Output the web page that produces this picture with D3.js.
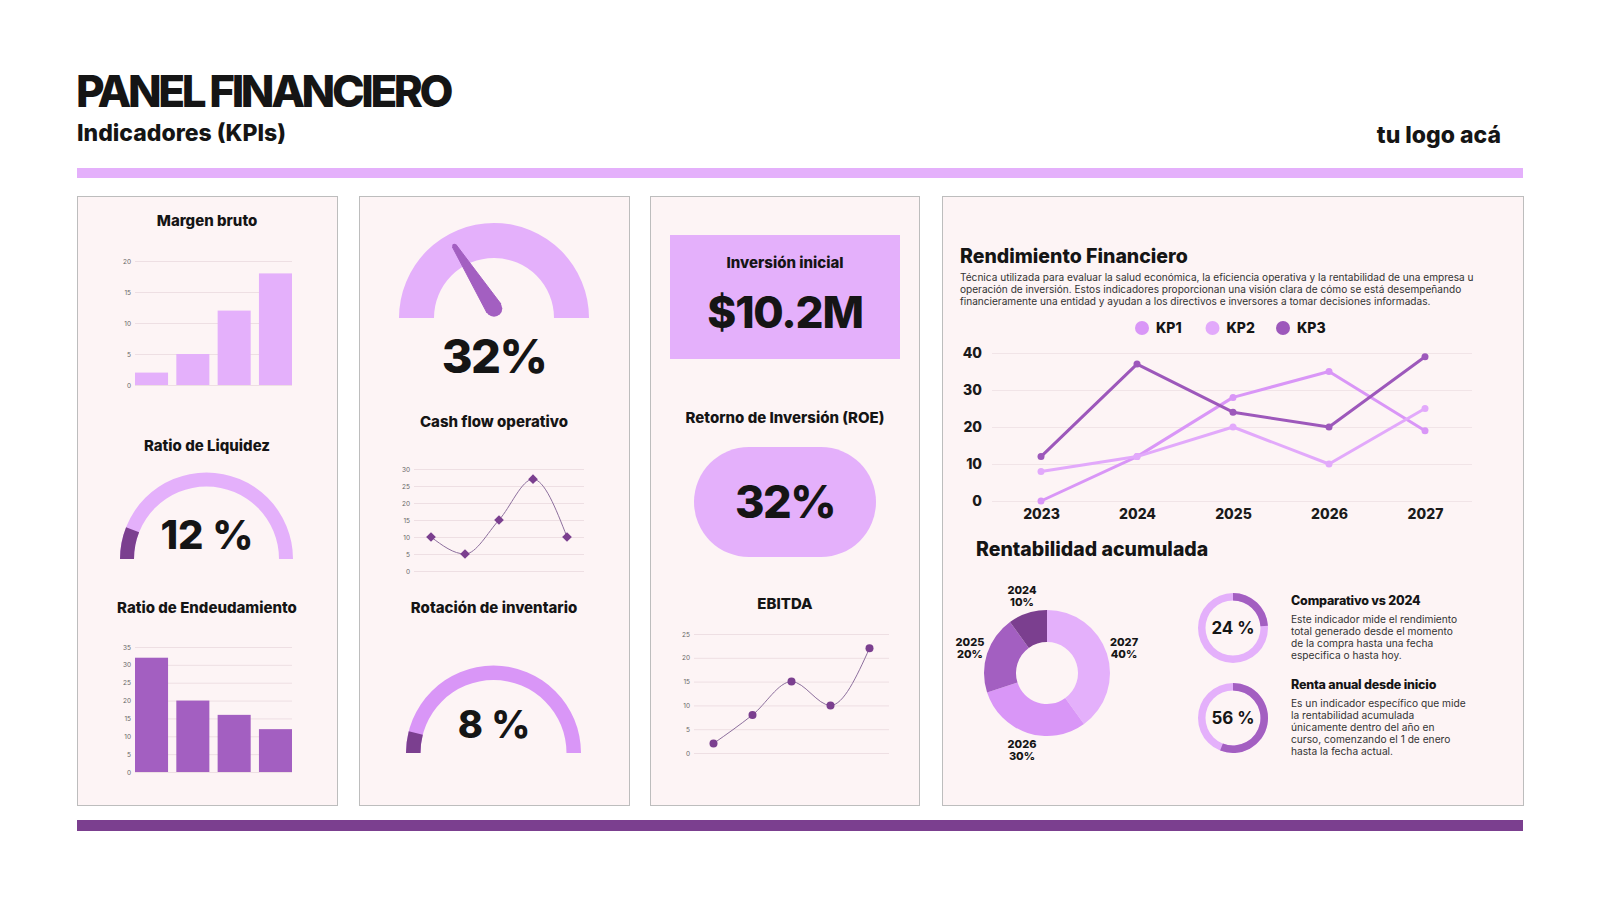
<!DOCTYPE html>
<html>
<head>
<meta charset="utf-8">
<script src="https://cdn.jsdelivr.net/npm/d3@7"></script>
<style>
	body { margin: 0; background: #fff; }
	text { font-family: Inter, "Open Sans", sans-serif; fill: #151515; }
	.title { font-weight: 800; }
	.tick-sm text { font-size: 6.5px; fill: #666; }
	.tick-sm .domain { display: none; }
	.tick-sm line { stroke: #eedfe3; }
	.kp-axis text { font-size: 14px; font-weight: 800; fill: #1a1a1a; }
	.kp-axis .domain { display: none; }
	.kp-axis line { stroke: #f1e4e7; }
	.desc { fill: #333; }
</style>
</head>
<body>
<svg id="chart" width="1600" height="900"></svg>
<script>
// ---------- DATA ----------
const barSlots = ["A", "B", "C", "D"];
const margenBruto = [2, 5, 12, 18];
const endeudamiento = [32, 20, 16, 12];
const pointSlots = ["1", "2", "3", "4", "5"];
const cashFlow = [10, 5, 15, 27, 10];
const ebitda = [2, 8, 15, 10, 22];
const years = ["2023", "2024", "2025", "2026", "2027"];
const kp1 = [0, 12, 28, 35, 19];
const kp2 = [8, 12, 20, 10, 25];
const kp3 = [12, 37, 24, 20, 39];
const kpNames = ["KP1", "KP2", "KP3"];
const donutYears = ["2027", "2026", "2025", "2024"];
const donutShares = [40, 30, 20, 10];
const liquidez = 12;
const rotacion = 8;
const needleValue = 32;
const roe = 32;
const inversion = "$10.2M";
const comparativo = 24;
const rentaAnual = 56;

const colorDef = {
	lilac: "#e4b0fb",
	orchid: "#d996f7",
	purple: "#a35fc1",
	plum: "#7b3f8f",
	panel: "#fdf4f5",
	border: "#bdbdbd",
	line: "#8d6f9d",
};

const svg = d3.select("#chart");

// ---------- HEADER ----------
svg.append("text").attr("class", "title")
	.attr("x", 76).attr("y", 107)
	.attr("font-size", 44).attr("letter-spacing", -3.4)
	.text("PANEL FINANCIERO");
svg.append("text").attr("class", "title")
	.attr("x", 77).attr("y", 141)
	.attr("font-size", 23)
	.text("Indicadores (KPIs)");
svg.append("text").attr("class", "title")
	.attr("x", 1501).attr("y", 143).attr("text-anchor", "end")
	.attr("font-size", 23)
	.text("tu logo acá");
svg.append("rect").attr("x", 77).attr("y", 168).attr("width", 1446).attr("height", 10).attr("fill", colorDef.lilac);
svg.append("rect").attr("x", 77).attr("y", 820).attr("width", 1446).attr("height", 11).attr("fill", colorDef.plum);

// panels
const panels = [[77, 337], [359, 629], [650, 919], [942, 1523]];
panels.forEach(([x0, x1]) => {
	svg.append("rect").attr("x", x0 + 0.5).attr("y", 196.5)
		.attr("width", x1 - x0).attr("height", 609)
		.attr("fill", colorDef.panel).attr("stroke", colorDef.border);
});

function heading(x, y, str, size, anchor) {
	return svg.append("text").attr("class", "title")
		.attr("x", x).attr("y", y)
		.attr("text-anchor", anchor || "middle")
		.attr("font-size", size || 15)
		.text(str);
}

// ---------- BAR CHARTS ----------
function barChart(values, yTop, yBottom, maxV, step, color) {
	const x = d3.scaleBand().domain(barSlots).range([135, 292]).paddingInner(0.2).paddingOuter(0);
	const y = d3.scaleLinear().domain([0, maxV]).range([yBottom, yTop]);
	const g = svg.append("g");
	g.append("g").attr("class", "tick-sm")
		.attr("transform", "translate(135,0)")
		.call(d3.axisLeft(y).tickValues(d3.range(0, maxV + 1, step)).tickSize(-157).tickPadding(4));
	g.selectAll("rect").data(values).join("rect")
		.attr("x", (d, i) => x(barSlots[i]))
		.attr("y", (d) => y(d))
		.attr("width", x.bandwidth())
		.attr("height", (d) => yBottom - y(d))
		.attr("fill", color);
}

heading(207, 226, "Margen bruto");
barChart(margenBruto, 261, 385, 20, 5, colorDef.lilac);
heading(207, 451, "Ratio de Liquidez");
heading(207, 613, "Ratio de Endeudamiento");
barChart(endeudamiento, 647, 772, 35, 5, colorDef.purple);

// ---------- GAUGES ----------
const gaugeAngle = d3.scaleLinear().domain([0, 100]).range([-Math.PI / 2, Math.PI / 2]);

function gauge(cx, cy, r, thick, value, base, fill) {
	const arc = d3.arc().innerRadius(r - thick).outerRadius(r);
	const g = svg.append("g").attr("transform", `translate(${cx},${cy})`);
	g.append("path").attr("d", arc({ startAngle: gaugeAngle(0), endAngle: gaugeAngle(100) })).attr("fill", base);
	if (fill) {
		g.append("path").attr("d", arc({ startAngle: gaugeAngle(0), endAngle: gaugeAngle(value) })).attr("fill", fill);
	}
	return g;
}

gauge(206.5, 559, 86.5, 14, liquidez, colorDef.lilac, colorDef.plum);
svg.append("text").attr("class", "title").attr("x", 207).attr("y", 549)
	.attr("text-anchor", "middle").attr("font-size", 40).attr("font-weight", 900)
	.text(liquidez + " %");

// needle gauge
const ng = gauge(494, 318, 95, 35, needleValue, colorDef.lilac, null);
(function () {
	const a = gaugeAngle(needleValue);
	const u = [Math.sin(a), -Math.cos(a)];
	const n = [-u[1], u[0]];
	const p = [0, -9.5];
	const len = 74, w = 8.3, tw = 2.2;
	const t = [p[0] + u[0] * len, p[1] + u[1] * len];
	const path = d3.path();
	path.moveTo(p[0] + n[0] * w, p[1] + n[1] * w);
	path.lineTo(t[0] + n[0] * tw, t[1] + n[1] * tw);
	path.lineTo(t[0] - n[0] * tw, t[1] - n[1] * tw);
	path.lineTo(p[0] - n[0] * w, p[1] - n[1] * w);
	path.closePath();
	ng.append("path").attr("d", path.toString()).attr("fill", colorDef.purple)
		.attr("stroke", colorDef.purple).attr("stroke-width", 1).attr("stroke-linejoin", "round");
	ng.append("circle").attr("cx", p[0]).attr("cy", p[1]).attr("r", w).attr("fill", colorDef.purple);
	ng.append("circle").attr("cx", t[0]).attr("cy", t[1]).attr("r", tw).attr("fill", colorDef.purple);
})();
svg.append("text").attr("class", "title").attr("x", 494).attr("y", 373)
	.attr("text-anchor", "middle").attr("font-size", 47).attr("font-weight", 900)
	.attr("letter-spacing", -1.5)
	.text(needleValue + "%");

heading(494, 427, "Cash flow operativo");
heading(494, 613, "Rotación de inventario");
gauge(493.5, 753, 87.5, 14.5, rotacion, colorDef.orchid, colorDef.plum);
svg.append("text").attr("class", "title").attr("x", 494).attr("y", 738)
	.attr("text-anchor", "middle").attr("font-size", 38).attr("font-weight", 900)
	.text(rotacion + " %");

// ---------- SMALL LINE CHARTS ----------
function smallLine(values, x0, x1, yTop, yBottom, maxV, ticks, marker) {
	const x = d3.scalePoint().domain(pointSlots).range([x0, x1]).padding(0.5);
	const y = d3.scaleLinear().domain([0, maxV]).range([yBottom, yTop]);
	const g = svg.append("g");
	g.append("g").attr("class", "tick-sm")
		.attr("transform", `translate(${x0},0)`)
		.call(d3.axisLeft(y).tickValues(ticks).tickSize(-(x1 - x0)).tickPadding(4));
	const line = d3.line()
		.x((d, i) => x(pointSlots[i]))
		.y((d) => y(d))
		.curve(d3.curveMonotoneX);
	g.append("path").attr("d", line(values)).attr("fill", "none")
		.attr("stroke", colorDef.line).attr("stroke-width", 1);
	if (marker === "diamond") {
		g.selectAll(".mk").data(values).join("path")
			.attr("transform", (d, i) => `translate(${x(pointSlots[i])},${y(d)})`)
			.attr("d", d3.symbol(d3.symbolDiamond2, 60)())
			.attr("fill", colorDef.plum);
	} else {
		g.selectAll(".mk").data(values).join("circle")
			.attr("cx", (d, i) => x(pointSlots[i]))
			.attr("cy", (d) => y(d))
			.attr("r", 4)
			.attr("fill", colorDef.plum);
	}
}

smallLine(cashFlow, 414, 584, 469, 571, 30, d3.range(0, 31, 5), "diamond");

// ---------- COLUMN 3 ----------
svg.append("rect").attr("x", 670).attr("y", 235).attr("width", 230).attr("height", 124).attr("fill", colorDef.lilac);
heading(785, 268, "Inversión inicial");
svg.append("text").attr("class", "title").attr("x", 785).attr("y", 328)
	.attr("text-anchor", "middle").attr("font-size", 44).attr("font-weight", 900)
	.attr("letter-spacing", -1.2)
	.text(inversion);
heading(785, 423, "Retorno de Inversión (ROE)");
svg.append("rect").attr("x", 694).attr("y", 447).attr("width", 182).attr("height", 110)
	.attr("rx", 55).attr("fill", colorDef.lilac);
svg.append("text").attr("class", "title").attr("x", 785).attr("y", 518)
	.attr("text-anchor", "middle").attr("font-size", 45).attr("font-weight", 900)
	.attr("letter-spacing", -1.5)
	.text(roe + "%");
heading(785, 609, "EBITDA");
smallLine(ebitda, 694, 889, 634, 753, 25, d3.range(0, 26, 5), "circle");

// ---------- RENDIMIENTO FINANCIERO ----------
heading(960, 263, "Rendimiento Financiero", 19.5, "start");
const descLines = [
	"Técnica utilizada para evaluar la salud económica, la eficiencia operativa y la rentabilidad de una empresa u",
	"operación de inversión. Estos indicadores proporcionan una visión clara de cómo se está desempeñando",
	"financieramente una entidad y ayudan a los directivos e inversores a tomar decisiones informadas.",
];
svg.append("text").attr("class", "desc").attr("font-size", 10.1).attr("x", 960).attr("y", 281)
	.selectAll("tspan").data(descLines).join("tspan")
	.attr("x", 960).attr("dy", (d, i) => (i ? 12 : 0))
	.text((d) => d);

const kpColors = [colorDef.orchid, "#e2a9fb", "#9d58bb"];
const kpSeries = [kp1, kp2, kp3];
const legend = svg.append("g").selectAll("g").data(kpNames).join("g")
	.attr("transform", (d, i) => `translate(${1142 + i * 70.5},328)`);
legend.append("circle").attr("r", 7).attr("fill", (d, i) => kpColors[i]);
legend.append("text").attr("class", "title").attr("x", 14).attr("y", 5)
	.attr("font-size", 14).text((d) => d);

const kx = d3.scalePoint().domain(years).range([1041, 1425]);
const ky = d3.scaleLinear().domain([0, 40]).range([501, 353]);
svg.append("g").attr("class", "kp-axis")
	.attr("transform", "translate(992,0)")
	.call(d3.axisLeft(ky).tickValues(d3.range(0, 41, 10)).tickSize(-480).tickPadding(10));
svg.append("g").attr("class", "kp-axis")
	.attr("transform", "translate(0,501)")
	.call(d3.axisBottom(kx).tickSize(0).tickPadding(8));

const kpLine = d3.line().x((d, i) => kx(years[i])).y((d) => ky(d));
kpSeries.forEach((s, k) => {
	svg.append("path").attr("d", kpLine(s)).attr("fill", "none")
		.attr("stroke", kpColors[k]).attr("stroke-width", 3).attr("stroke-linejoin", "round");
	svg.append("g").selectAll("circle").data(s).join("circle")
		.attr("cx", (d, i) => kx(years[i])).attr("cy", (d) => ky(d))
		.attr("r", 3.5).attr("fill", kpColors[k]);
});

// ---------- RENTABILIDAD ACUMULADA ----------
heading(976, 556, "Rentabilidad acumulada", 19.5, "start");
const donutColors = [colorDef.lilac, colorDef.orchid, colorDef.purple, colorDef.plum];
const pie = d3.pie().sort(null).value((d) => d)(donutShares);
const donut = svg.append("g").attr("transform", "translate(1047,673)");
const donutArc = d3.arc().innerRadius(31).outerRadius(63);
const labelArc = d3.arc().innerRadius(81).outerRadius(81);
donut.selectAll("path").data(pie).join("path")
	.attr("d", donutArc).attr("fill", (d, i) => donutColors[i]);
const dl = donut.selectAll(".lbl").data(pie).join("text")
	.attr("class", "title").attr("text-anchor", "middle").attr("font-size", 11)
	.attr("transform", (d) => `translate(${labelArc.centroid(d)})`);
dl.append("tspan").attr("x", 0).attr("y", -2).text((d, i) => donutYears[i]);
dl.append("tspan").attr("x", 0).attr("y", 10).text((d) => d.data + "%");

// rings
function ring(cy, value, title, titleY, lines) {
	const g = svg.append("g").attr("transform", `translate(1233,${cy})`);
	const arc = d3.arc().innerRadius(27.5).outerRadius(35);
	g.append("path").attr("d", arc({ startAngle: 0, endAngle: 2 * Math.PI })).attr("fill", colorDef.lilac);
	g.append("path").attr("d", arc({ startAngle: 0, endAngle: (value / 100) * 2 * Math.PI })).attr("fill", colorDef.purple);
	g.append("text").attr("x", 0).attr("y", 6.3).attr("text-anchor", "middle")
		.attr("font-size", 17).attr("font-weight", 700).text(value + " %");
	heading(1291, titleY, title, 12.5, "start").attr("letter-spacing", -0.2);
	svg.append("text").attr("class", "desc").attr("font-size", 10.2).attr("x", 1291).attr("y", titleY + 18)
		.selectAll("tspan").data(lines).join("tspan")
		.attr("x", 1291).attr("dy", (d, i) => (i ? 12 : 0))
		.text((d) => d);
}
ring(628, comparativo, "Comparativo vs 2024", 605, [
	"Este indicador mide el rendimiento",
	"total generado desde el momento",
	"de la compra hasta una fecha",
	"especifica o hasta hoy.",
]);
ring(718, rentaAnual, "Renta anual desde inicio", 689, [
	"Es un indicador específico que mide",
	"la rentabilidad acumulada",
	"únicamente dentro del año en",
	"curso, comenzando el 1 de enero",
	"hasta la fecha actual.",
]);
</script>
</body>
</html>
